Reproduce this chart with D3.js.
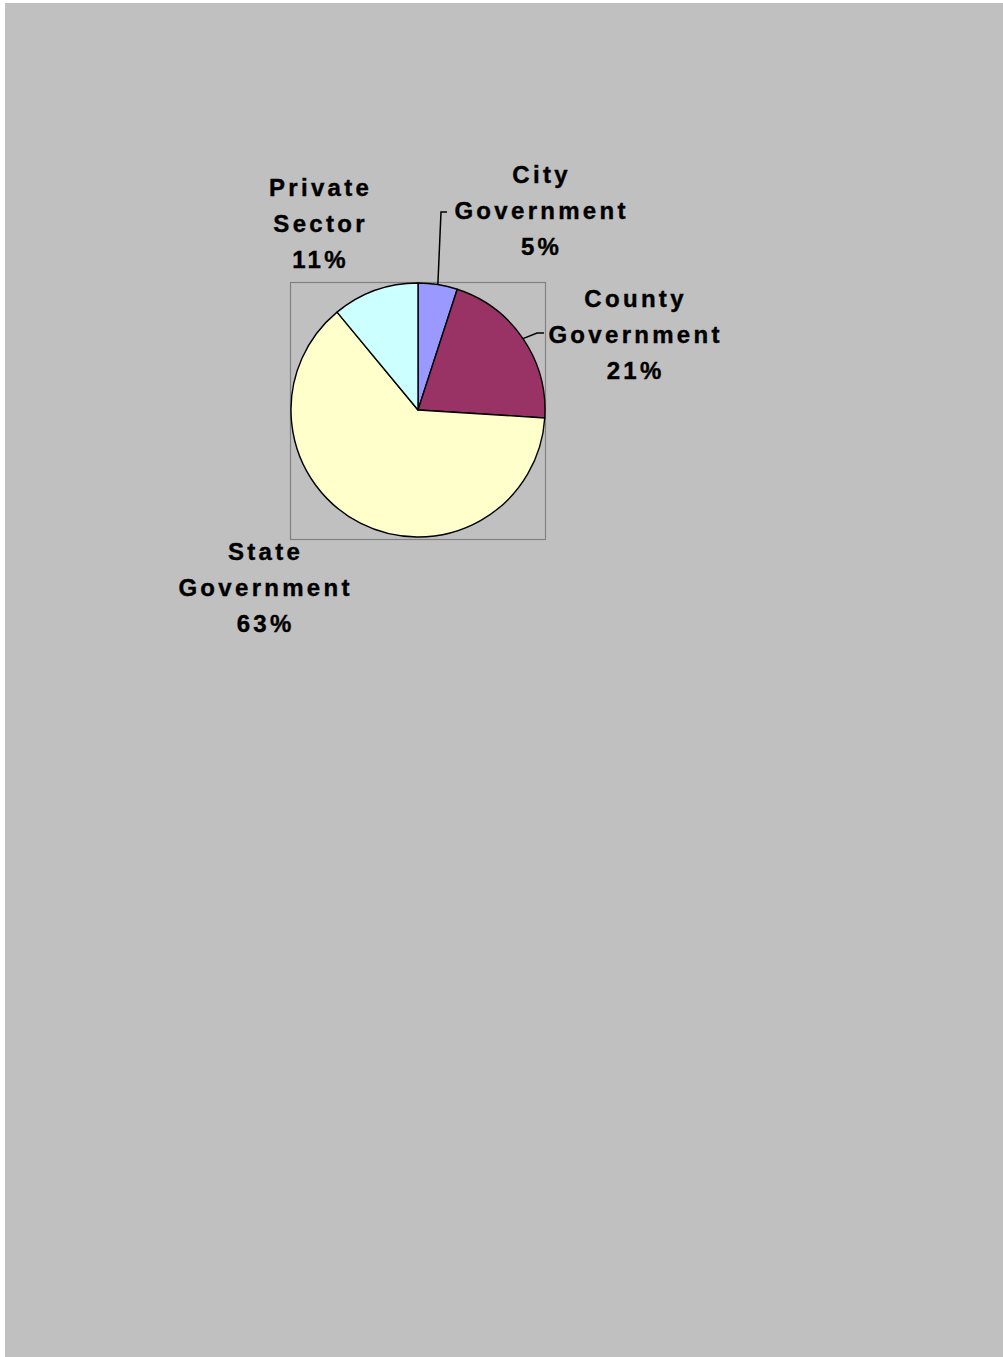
<!DOCTYPE html>
<html>
<head>
<meta charset="utf-8">
<script src="https://cdn.jsdelivr.net/npm/d3@7"></script>
<style>
  html, body { margin: 0; padding: 0; background: #ffffff; }
  svg { display: block; }
  .lbl { font-family: "Liberation Sans", Arial, sans-serif; font-weight: bold; font-size: 24px; letter-spacing: 3.3px; fill: #000; stroke: #000; stroke-width: 0.4px; }
</style>
</head>
<body>
<script>
// Share of funding by source
const categories = ["City Government", "County Government", "State Government", "Private Sector"];
const percents = [5, 21, 63, 11];
const colors = ["#9999ff", "#993366", "#ffffcc", "#ccffff"];

const W = 1003, H = 1357;
const cx = 418, cy = 410, r = 127;

// label placement: x = centre of the text block, y = baseline of the middle line
const labelLayout = {
  "City Government":   { x: 540, y: 219, leader: [[441, 212], [447, 212]] },
  "County Government": { x: 634, y: 343, leader: [[537, 333], [544, 333]] },
  "State Government":  { x: 264, y: 596, leader: null },
  "Private Sector":    { x: 319, y: 232, leader: null }
};

const svg = d3.select("body").append("svg").attr("width", W).attr("height", H);

// page background
svg.append("rect").attr("x", 5).attr("y", 3).attr("width", W - 5).attr("height", H - 3).attr("fill", "#c0c0c0");

// plot-area frame
svg.append("rect")
  .attr("x", cx - r - 0.5).attr("y", cy - r - 0.5)
  .attr("width", 2 * r + 1).attr("height", 2 * r + 3)
  .attr("fill", "none").attr("stroke", "#808080").attr("stroke-width", 1.2);

const data = categories.map((c, i) => ({ name: c, value: percents[i], color: colors[i] }));
const pie = d3.pie().sort(null).value(d => d.value);
const arcs = pie(data);
const arc = d3.arc().innerRadius(0).outerRadius(r);

const g = svg.append("g").attr("transform", `translate(${cx},${cy})`);
g.selectAll("path").data(arcs).join("path")
  .attr("d", arc)
  .attr("fill", d => d.data.color)
  .attr("stroke", "#000").attr("stroke-width", 1.4).attr("stroke-linejoin", "round");

// leader lines from slice edge to label
arcs.forEach(a => {
  const L = labelLayout[a.data.name];
  if (!L.leader) return;
  const mid = (a.startAngle + a.endAngle) / 2;
  const p0 = [cx + r * Math.sin(mid), cy - r * Math.cos(mid)];
  svg.append("path")
    .attr("d", d3.line()([p0, ...L.leader]))
    .attr("fill", "none").attr("stroke", "#000").attr("stroke-width", 1.5);
});

// data labels: category name on two lines plus percentage
arcs.forEach(a => {
  const L = labelLayout[a.data.name];
  const words = a.data.name.split(" ");
  const lines = [words[0], words.slice(1).join(" "), a.data.value + "%"];
  const t = svg.append("text").attr("class", "lbl").attr("text-anchor", "middle");
  lines.forEach((s, i) => {
    t.append("tspan").attr("x", L.x + 1.6).attr("y", L.y + (i - 1) * 36).text(s);
  });
});
</script>
</body>
</html>
